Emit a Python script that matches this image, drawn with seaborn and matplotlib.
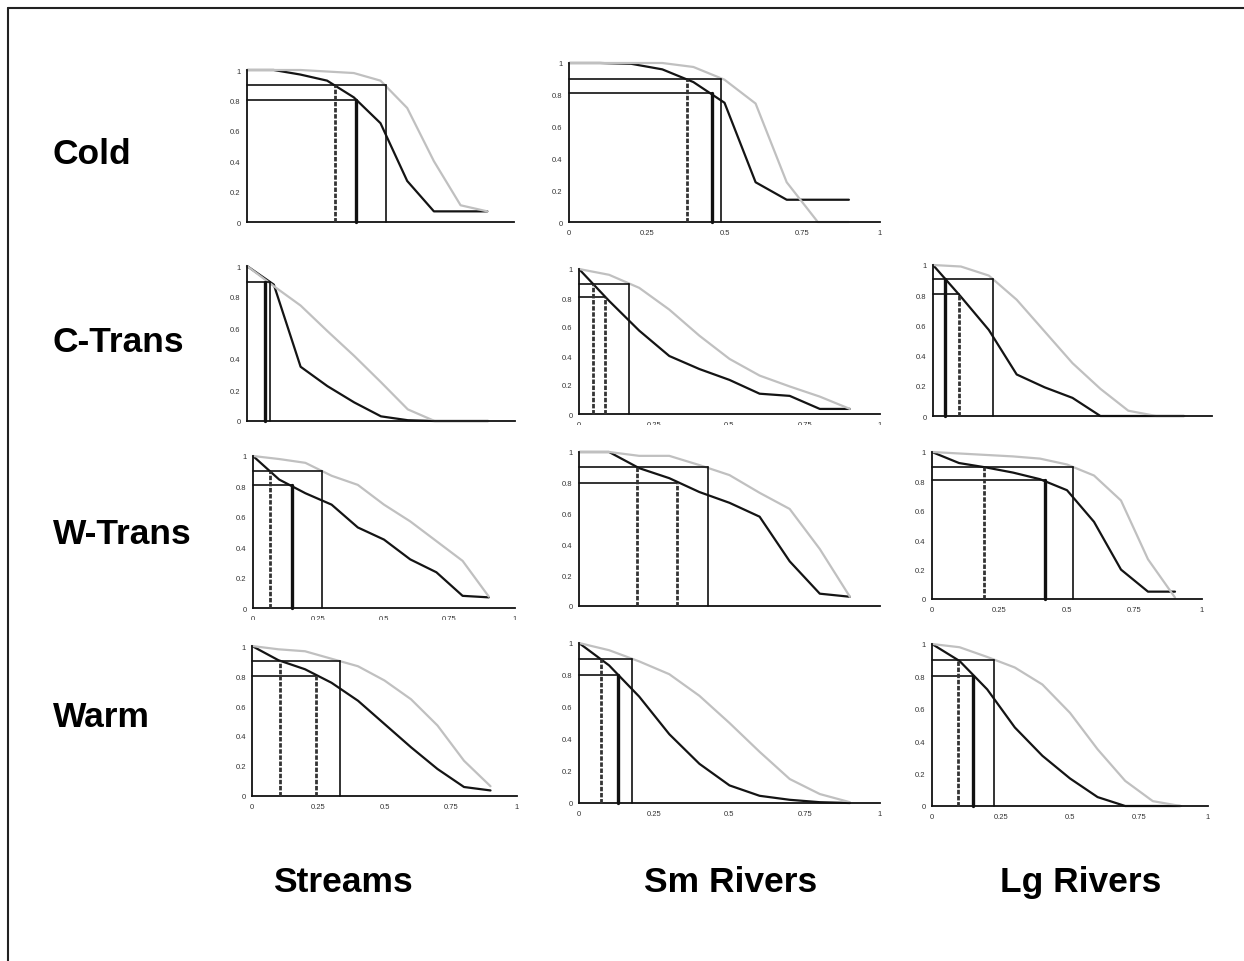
import numpy as np
import pandas as pd
import matplotlib
matplotlib.use("Agg")
import matplotlib.pyplot as plt
import seaborn as sns
from matplotlib.lines import Line2D
from matplotlib.ticker import FixedLocator, MultipleLocator, FuncFormatter
from matplotlib.transforms import Bbox, TransformedBbox

# ---------------------------------------------------------------------------
# Data: cumulative curves sampled at x = 0, 0.1, ..., 0.9
# "dark" = black curve, "light" = grey curve
# cut lists: (x, level, style) for the threshold drop lines
# ---------------------------------------------------------------------------
ZONES = ["Cold", "C-Trans", "W-Trans", "Warm"]
SIZES = ["Streams", "Sm Rivers", "Lg Rivers"]
X_STEPS = [0.0, 0.1, 0.2, 0.3, 0.4, 0.5, 0.6, 0.7, 0.8, 0.9]

COLD_STREAMS_DARK = [1.0, 1.0, 0.97, 0.93, 0.82, 0.65, 0.27, 0.07, 0.07, 0.07]
COLD_STREAMS_LIGHT = [1.0, 1.0, 1.0, 0.99, 0.98, 0.93, 0.75, 0.40, 0.11, 0.07]
COLD_STREAMS_CUTS = [(0.33, 0.9, "dash"), (0.41, 0.8, "thick"), (0.52, 0.9, "thin")]

COLD_SMRIV_DARK = [1.0, 1.0, 0.995, 0.96, 0.88, 0.75, 0.25, 0.14, 0.14, 0.14]
COLD_SMRIV_LIGHT = [1.0, 1.0, 1.0, 1.0, 0.975, 0.895, 0.745, 0.25, 0.0, 0.0]
COLD_SMRIV_CUTS = [(0.378, 0.9, "dash"), (0.459, 0.81, "thick"), (0.49, 0.9, "thin")]

CTRANS_STREAMS_DARK = [1.0, 0.88, 0.35, 0.225, 0.12, 0.03, 0.005, 0.0, 0.0, 0.0]
CTRANS_STREAMS_LIGHT = [1.0, 0.87, 0.745, 0.58, 0.42, 0.25, 0.075, 0.0, 0.0, 0.0]
CTRANS_STREAMS_CUTS = [(0.068, 0.9, "thick"), (0.085, 0.9, "thin")]

CTRANS_SMRIV_DARK = [1.0, 0.78, 0.575, 0.40, 0.31, 0.235, 0.14, 0.125, 0.035, 0.035]
CTRANS_SMRIV_LIGHT = [1.0, 0.96, 0.87, 0.72, 0.54, 0.38, 0.265, 0.19, 0.12, 0.035]
CTRANS_SMRIV_CUTS = [(0.045, 0.9, "dash"), (0.086, 0.81, "dash"), (0.165, 0.9, "thin")]

CTRANS_LGRIV_DARK = [1.0, 0.79, 0.57, 0.275, 0.19, 0.12, 0.0, 0.0, 0.0, 0.0]
CTRANS_LGRIV_LIGHT = [1.0, 0.99, 0.93, 0.77, 0.56, 0.35, 0.18, 0.035, 0.0, 0.0]
CTRANS_LGRIV_CUTS = [(0.044, 0.91, "thick"), (0.094, 0.81, "dash"), (0.215, 0.91, "thin")]

WTRANS_STREAMS_DARK = [1.0, 0.845, 0.755, 0.68, 0.53, 0.45, 0.32, 0.235, 0.08, 0.07]
WTRANS_STREAMS_LIGHT = [1.0, 0.98, 0.955, 0.87, 0.81, 0.68, 0.57, 0.44, 0.31, 0.075]
WTRANS_STREAMS_CUTS = [(0.064, 0.9, "dash"), (0.149, 0.807, "thick"), (0.263, 0.9, "thin")]

WTRANS_SMRIV_DARK = [1.0, 1.0, 0.895, 0.83, 0.74, 0.67, 0.58, 0.29, 0.08, 0.06]
WTRANS_SMRIV_LIGHT = [1.0, 1.0, 0.975, 0.975, 0.915, 0.85, 0.735, 0.63, 0.37, 0.06]
WTRANS_SMRIV_CUTS = [(0.194, 0.9, "dash"), (0.326, 0.8, "dash"), (0.427, 0.9, "thin")]

WTRANS_LGRIV_DARK = [1.0, 0.925, 0.895, 0.86, 0.815, 0.74, 0.525, 0.2, 0.05, 0.05]
WTRANS_LGRIV_LIGHT = [1.0, 0.99, 0.98, 0.97, 0.955, 0.915, 0.84, 0.67, 0.27, 0.01]
WTRANS_LGRIV_CUTS = [(0.191, 0.9, "dash"), (0.417, 0.807, "thick"), (0.521, 0.9, "thin")]

WARM_STREAMS_DARK = [1.0, 0.905, 0.845, 0.755, 0.635, 0.48, 0.325, 0.18, 0.06, 0.037]
WARM_STREAMS_LIGHT = [1.0, 0.978, 0.965, 0.915, 0.865, 0.77, 0.645, 0.47, 0.235, 0.065]
WARM_STREAMS_CUTS = [(0.107, 0.9, "dash"), (0.243, 0.8, "dash"), (0.333, 0.9, "thin")]

WARM_SMRIV_DARK = [1.0, 0.86, 0.665, 0.43, 0.245, 0.11, 0.045, 0.02, 0.005, 0.0]
WARM_SMRIV_LIGHT = [1.0, 0.955, 0.885, 0.805, 0.67, 0.50, 0.32, 0.15, 0.056, 0.005]
WARM_SMRIV_CUTS = [(0.073, 0.9, "dash"), (0.131, 0.8, "thick"), (0.177, 0.9, "thin")]

WARM_LGRIV_DARK = [1.0, 0.895, 0.72, 0.485, 0.31, 0.17, 0.055, 0.0, 0.0, 0.0]
WARM_LGRIV_LIGHT = [1.0, 0.98, 0.92, 0.855, 0.75, 0.575, 0.35, 0.155, 0.03, 0.0]
WARM_LGRIV_CUTS = [(0.096, 0.9, "dash"), (0.15, 0.8, "thick"), (0.226, 0.9, "thin")]

Y_TICKS = [0, 0.2, 0.4, 0.6, 0.8, 1.0]
X_TICKS = [0, 0.25, 0.5, 0.75, 1.0]

PANELS = {
    ("Cold", "Streams"): (COLD_STREAMS_DARK, COLD_STREAMS_LIGHT, COLD_STREAMS_CUTS),
    ("Cold", "Sm Rivers"): (COLD_SMRIV_DARK, COLD_SMRIV_LIGHT, COLD_SMRIV_CUTS),
    ("C-Trans", "Streams"): (CTRANS_STREAMS_DARK, CTRANS_STREAMS_LIGHT, CTRANS_STREAMS_CUTS),
    ("C-Trans", "Sm Rivers"): (CTRANS_SMRIV_DARK, CTRANS_SMRIV_LIGHT, CTRANS_SMRIV_CUTS),
    ("C-Trans", "Lg Rivers"): (CTRANS_LGRIV_DARK, CTRANS_LGRIV_LIGHT, CTRANS_LGRIV_CUTS),
    ("W-Trans", "Streams"): (WTRANS_STREAMS_DARK, WTRANS_STREAMS_LIGHT, WTRANS_STREAMS_CUTS),
    ("W-Trans", "Sm Rivers"): (WTRANS_SMRIV_DARK, WTRANS_SMRIV_LIGHT, WTRANS_SMRIV_CUTS),
    ("W-Trans", "Lg Rivers"): (WTRANS_LGRIV_DARK, WTRANS_LGRIV_LIGHT, WTRANS_LGRIV_CUTS),
    ("Warm", "Streams"): (WARM_STREAMS_DARK, WARM_STREAMS_LIGHT, WARM_STREAMS_CUTS),
    ("Warm", "Sm Rivers"): (WARM_SMRIV_DARK, WARM_SMRIV_LIGHT, WARM_SMRIV_CUTS),
    ("Warm", "Lg Rivers"): (WARM_LGRIV_DARK, WARM_LGRIV_LIGHT, WARM_LGRIV_CUTS),
}

# ---------------------------------------------------------------------------
# Layout (pixel boxes: left, right, top, bottom) and styling
# ---------------------------------------------------------------------------
W_PX, H_PX = 1244, 962
BOXES = {
    ("Cold", "Streams"): (247, 514, 71, 223),
    ("Cold", "Sm Rivers"): (569, 880, 64, 223),
    ("C-Trans", "Streams"): (247, 515, 267, 422),
    ("C-Trans", "Sm Rivers"): (579, 880, 270, 415),
    ("C-Trans", "Lg Rivers"): (933, 1212, 266, 417),
    ("W-Trans", "Streams"): (253, 515, 457, 609),
    ("W-Trans", "Sm Rivers"): (579, 880, 453, 607),
    ("W-Trans", "Lg Rivers"): (932, 1202, 453, 600),
    ("Warm", "Streams"): (252, 517, 647, 797),
    ("Warm", "Sm Rivers"): (579, 880, 644, 804),
    ("Warm", "Lg Rivers"): (932, 1208, 645, 807),
}
# x tick labels: shown fully, cut off at a pixel row, or hidden
XLABEL_MODE = {
    ("Cold", "Streams"): ("cut", 231),
    ("C-Trans", "Streams"): ("hide", None),
    ("C-Trans", "Sm Rivers"): ("cut", 426),
    ("C-Trans", "Lg Rivers"): ("hide", None),
    ("W-Trans", "Streams"): ("cut", 621),
    ("W-Trans", "Sm Rivers"): ("hide", None),
}
ROW_Y = {"Cold": 155, "C-Trans": 343, "W-Trans": 535, "Warm": 718}
COL_X = {"Streams": 343, "Sm Rivers": 731, "Lg Rivers": 1081}

CUT_STYLES = {
    "thin": dict(lw=1.2, ls="-", color="#111111"),
    "thick": dict(lw=2.4, ls="-", color="#111111"),
    "dash": dict(lw=2.0, ls=(0, (1.6, 0.6)), color="#333333"),
}
PALETTE = {"light": "#c0c0c0", "dark": "#141414"}

sns.set_style("white")
plt.rcParams["font.family"] = ["Liberation Sans", "DejaVu Sans"]

# long-form table of every curve
rows = []
for (zone, size), (dark, light, _) in PANELS.items():
    for series, vals in (("dark", dark), ("light", light)):
        for x, y in zip(X_STEPS, vals):
            rows.append({"zone": zone, "group": size, "series": series, "x": x, "y": y})
df = pd.DataFrame(rows)

fig = plt.figure(figsize=(W_PX / 100, H_PX / 100), dpi=100)
fig.patch.set_facecolor("white")


def fmt(v, _pos=None):
    return f"{v:.2f}".rstrip("0").rstrip(".")


for (zone, size), (l, r, t, b) in BOXES.items():
    ax = fig.add_axes([l / W_PX, 1 - b / H_PX, (r - l) / W_PX, (b - t) / H_PX])
    sub = df[(df["zone"] == zone) & (df["group"] == size)]
    # black curve first, grey curve drawn over it
    sns.lineplot(data=sub, x="x", y="y", hue="series", hue_order=["dark", "light"],
                 palette=PALETTE, estimator=None, sort=False, legend=False,
                 linewidth=1.6, ax=ax)
    for ln in ax.lines:
        ln.set_clip_on(False)
        ln.set_solid_joinstyle("round")

    # threshold drop lines
    cuts = PANELS[(zone, size)][2]
    levels = {}
    for x, lev, _ in cuts:
        levels[lev] = max(levels.get(lev, 0), x)
    for lev, xmax in levels.items():
        ax.plot([0, xmax], [lev, lev], color="#111111", lw=1.2, clip_on=False, zorder=4)
    for x, lev, style in cuts:
        ax.plot([x, x], [0, lev], clip_on=False, zorder=4, **CUT_STYLES[style])

    ax.set_xlim(0, 1)
    ax.set_ylim(0, 1)
    ax.set_xlabel("")
    ax.set_ylabel("")
    sns.despine(ax=ax)
    for side in ("left", "bottom"):
        ax.spines[side].set_linewidth(1.3)
        ax.spines[side].set_color("#111111")
    ax.yaxis.set_major_locator(FixedLocator(Y_TICKS))
    ax.yaxis.set_minor_locator(MultipleLocator(0.1))
    ax.xaxis.set_major_locator(FixedLocator(X_TICKS))
    ax.yaxis.set_major_formatter(FuncFormatter(fmt))
    ax.xaxis.set_major_formatter(FuncFormatter(fmt))
    ax.tick_params(axis="y", which="major", direction="out", length=3, width=1.0,
                   labelsize=5.5, pad=1.5, colors="#333333", labelcolor="#333333")
    ax.tick_params(axis="y", which="minor", direction="out", length=2.5, width=1.0,
                   colors="#333333")
    ax.tick_params(axis="x", which="major", direction="out", length=2.5, width=1.0,
                   labelsize=5.5, pad=2.5, colors="#333333", labelcolor="#333333")
    ax.patch.set_alpha(0)

    mode, cut_px = XLABEL_MODE.get((zone, size), ("show", None))
    if mode == "hide":
        ax.tick_params(axis="x", labelbottom=False)
    elif mode == "cut":
        clip = TransformedBbox(Bbox([[0, 1 - cut_px / H_PX], [1, 1]]), fig.transFigure)
        for tick in ax.xaxis.get_major_ticks():
            tick.label1.set_clip_box(clip)
            tick.label1.set_clip_on(True)

# row and column headings
for zone, ypx in ROW_Y.items():
    fig.text(53 / W_PX, 1 - ypx / H_PX, zone, fontsize=25.5, fontweight="bold",
             ha="left", va="center", color="#000000")
for size, xpx in COL_X.items():
    fig.text(xpx / W_PX, 1 - 883 / H_PX, size, fontsize=25.5, fontweight="bold",
             ha="center", va="center", color="#000000")

# frame edges along the top and left
fig.add_artist(Line2D([8 / W_PX, 1.0], [1 - 9 / H_PX, 1 - 9 / H_PX],
                      transform=fig.transFigure, color="#222222", lw=1.5))
fig.add_artist(Line2D([8 / W_PX, 8 / W_PX], [0.0, 1 - 9 / H_PX],
                      transform=fig.transFigure, color="#222222", lw=1.5))

fig.savefig("out.png", dpi=100, facecolor="white")
